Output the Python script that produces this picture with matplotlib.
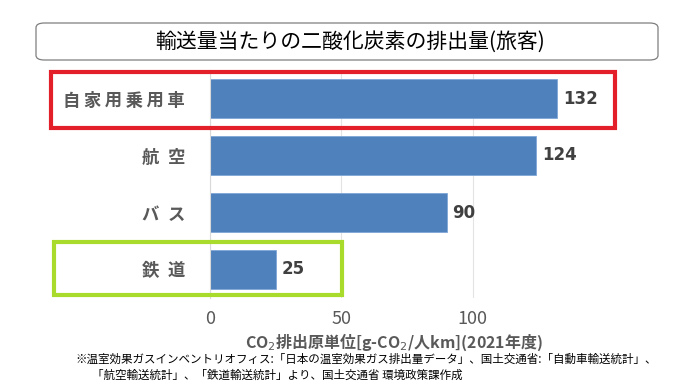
import matplotlib
matplotlib.use("Agg")
import matplotlib.pyplot as plt
from matplotlib.patches import FancyBboxPatch, Rectangle

plt.rcParams["font.family"] = ["Noto Sans CJK JP", "DejaVu Sans"]

# data (top to bottom)
categories = ["自\u2009家\u2009用\u2009乗\u2009用\u2009車", "航\u2002空", "バ\u2002ス", "鉄\u2002道"]
values = [132, 124, 90, 25]
xticks = [0, 50, 100]

TITLE = "輸送量当たりの二酸化炭素の排出量(旅客)"
XLABEL = "CO$_2$排出原単位[g-CO$_2$/人km](2021年度)"
NOTE1 = "※温室効果ガスインベントリオフィス:「日本の温室効果ガス排出量データ」、国土交通省:「自動車輸送統計」、"
NOTE2 = "「航空輸送統計」、「鉄道輸送統計」より、国土交通省 環境政策課作成"

W, H = 700, 391
fig = plt.figure(figsize=(W / 100, H / 100), dpi=100)


def fx(px):
    return px / W


def fy(py):
    return 1 - py / H


ax = fig.add_axes([fx(210), fy(298), fx(368), 228 / H])
ypos = list(range(len(categories)))
ax.barh(ypos, values, height=0.67, color="#4F81BD", edgecolor="#7FA6D6", linewidth=0.6)
ax.set_ylim(len(categories) - 0.5, -0.5)
ax.set_xlim(0, 140)
ax.set_xticks(xticks)
ax.set_xticklabels([str(t) for t in xticks], fontsize=13, color="#595959")
ax.tick_params(axis="x", length=0, pad=9)
ax.set_yticks(ypos)
ax.set_yticklabels(categories, fontsize=12.5, color="#595959", fontweight="bold")
ax.tick_params(axis="y", length=0, pad=18)
ax.xaxis.grid(True, color="#E3E3E3", linewidth=0.8)
ax.set_axisbelow(True)
for s in ["top", "right", "bottom"]:
    ax.spines[s].set_visible(False)
ax.spines["left"].set_color("#D9D9D9")
ax.spines["left"].set_linewidth(0.8)

for y, v in zip(ypos, values):
    ax.text(v + 2.2, y, str(v), va="center", ha="left", fontsize=12,
            fontweight="bold", color="#404040", family="DejaVu Sans")

fig.text(fx(394), fy(342), XLABEL, ha="center", va="center", fontsize=11.5,
         fontweight="bold", color="#595959")

# title box
fig.patches.append(FancyBboxPatch((fx(36), fy(60)), fx(622), 37 / H,
                                  boxstyle="round,pad=0,rounding_size=0.012",
                                  transform=fig.transFigure, fill=False,
                                  edgecolor="#7F7F7F", linewidth=0.9))
fig.text(fx(350), fy(42), TITLE, ha="center", va="center", fontsize=15, color="#000000")

# highlight boxes
fig.patches.append(Rectangle((fx(51), fy(128)), fx(564), 56 / H,
                             transform=fig.transFigure, fill=False,
                             edgecolor="#E3202A", linewidth=3))
fig.patches.append(Rectangle((fx(54), fy(295)), fx(288), 53 / H,
                             transform=fig.transFigure, fill=False,
                             edgecolor="#A9DB2C", linewidth=3))

fig.text(fx(75), fy(359), NOTE1, ha="left", va="center", fontsize=8.3, color="#000000")
fig.text(fx(92), fy(375), NOTE2, ha="left", va="center", fontsize=8.3, color="#000000")

fig.savefig("out.png", dpi=100, facecolor="white")
